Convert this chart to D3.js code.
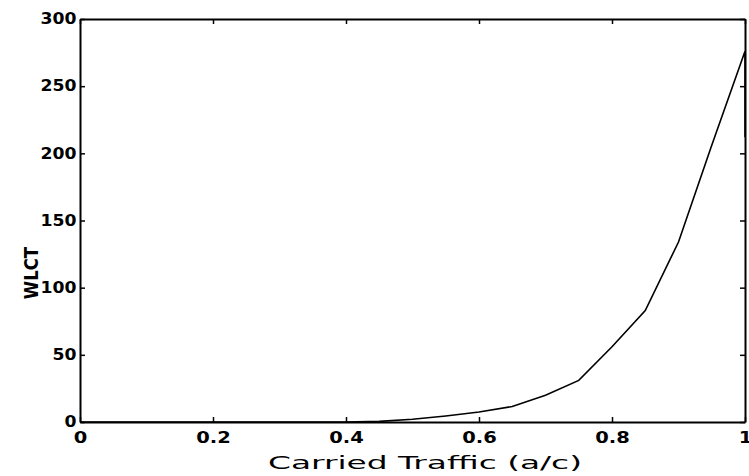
<!DOCTYPE html>
<head>
  <meta charset="utf-8">
  <script src="https://d3js.org/d3.v7.min.js"></script>
  <style>
    body { margin:0; background:#fff; }
    .line { fill:none; stroke:#000; stroke-width:1.6px; }
    .tick text { font-family:"DejaVu Sans"; font-weight:bold; font-size:15px; fill:#000; }
  </style>
</head>

<body>
  <script>
    // carried traffic vs WLCT
    var load = [0, 0.05, 0.1, 0.15, 0.2, 0.25, 0.3, 0.35, 0.4, 0.45, 0.5, 0.55, 0.6, 0.65, 0.7, 0.75, 0.8, 0.85, 0.9, 0.95, 1, 1];
    var wlct = [0, 0, 0, 0, 0, 0, 0, 0, 0, 0.5, 2, 4.5, 7.5, 11.5, 20, 31, 56, 83, 134, 206, 276, 212];
    var xTicks = [0, 0.2, 0.4, 0.6, 0.8, 1];
    var xTickLabels = ["0", "0.2", "0.4", "0.6", "0.8", "1"];
    var yTicks = [0, 50, 100, 150, 200, 250, 300];

    var width = 749, height = 476;
    var margin = {top: 19, right: 4, bottom: 54, left: 80};

    var svg = d3.select("body").append("svg")
      .attr("width", width)
      .attr("height", height)

    var x = d3.scaleLinear()
        .domain([0, 1])
        .range([margin.left, width - margin.right])

    var y = d3.scaleLinear()
        .domain([0, 300])
        .range([height - margin.bottom, margin.top])

    var data = load.map(function(d, i) { return {x: d, y: wlct[i]}; });

    // bottom axis, ticks pointing in
    var gx = svg.append("g")
      .attr("transform", "translate(0," + y(0) + ")")
      .call(d3.axisBottom(x).tickValues(xTicks).tickSizeInner(-5).tickSizeOuter(0)
        .tickFormat(function(d, i) { return xTickLabels[i]; }))
    gx.selectAll("text").attr("y", 21).attr("dy", 0).attr("transform", "scale(1.3,1)")

    var gy = svg.append("g")
      .attr("transform", "translate(" + x(0) + ",0)")
      .call(d3.axisLeft(y).tickValues(yTicks).tickSizeInner(-5).tickSizeOuter(0))
    gy.selectAll("text").attr("x", -3).attr("dy", "0.32em").attr("transform", "scale(1.15,1)")

    // top and right ticks, no labels
    svg.append("g")
      .attr("transform", "translate(0," + y(300) + ")")
      .call(d3.axisTop(x).tickValues(xTicks).tickSizeInner(-5).tickSizeOuter(0).tickFormat(""))
    svg.append("g")
      .attr("transform", "translate(" + x(1) + ",0)")
      .call(d3.axisRight(y).tickValues(yTicks).tickSizeInner(-5).tickSizeOuter(0).tickFormat(""))

    svg.selectAll(".domain").attr("stroke", "#000").attr("stroke-width", 2)
    svg.selectAll(".tick line").attr("stroke", "#000").attr("stroke-width", 1.5)

    var line = d3.line()
      .x(function(d) { return x(d.x); })
      .y(function(d) { return y(d.y); })

    svg.append("path").datum(data)
      .attr("class", "line")
      .attr("d", line)

    svg.append("text")
      .attr("x", 425).attr("y", 469)
      .attr("text-anchor", "middle")
      .attr("font-family", "DejaVu Sans")
      .attr("font-size", 18)
      .attr("textLength", 314).attr("lengthAdjust", "spacingAndGlyphs")
      .text("Carried Traffic (a/c)")

    svg.append("text")
      .attr("transform", "translate(38,273) rotate(-90) scale(0.83,1)")
      .attr("text-anchor", "middle")
      .attr("font-family", "DejaVu Sans")
      .attr("font-weight", "bold")
      .attr("font-size", 20)
      .text("WLCT")
  </script>
</body>
